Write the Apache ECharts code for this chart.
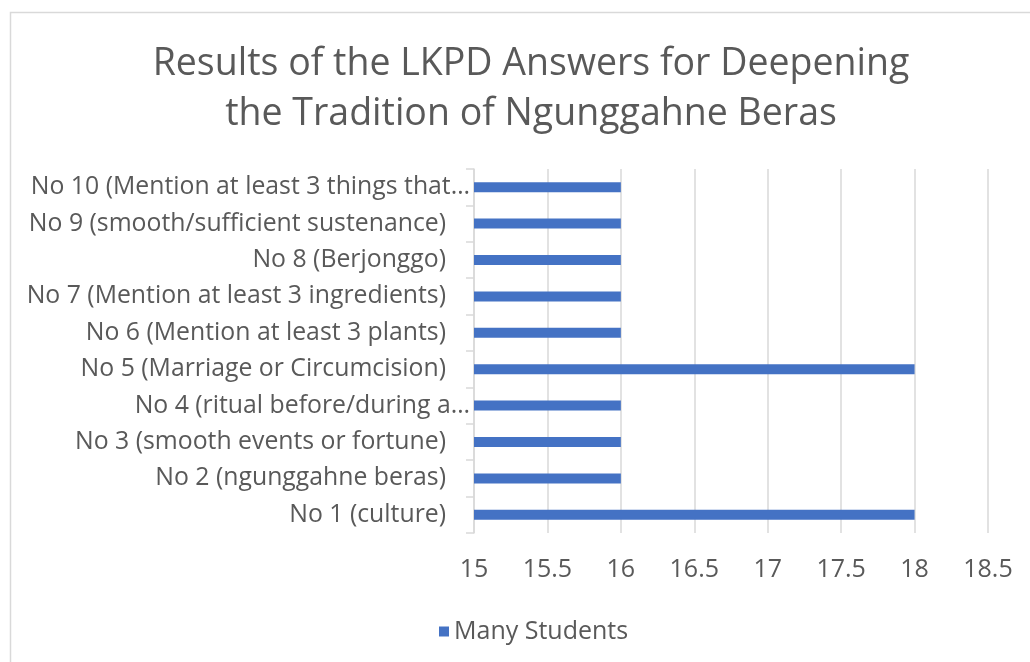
<!DOCTYPE html>
<html>
<head>
<meta charset="utf-8">
<script src="https://cdn.jsdelivr.net/npm/echarts@6/dist/echarts.min.js"></script>
<style>
html,body{margin:0;padding:0;background:#fff;}
#chart{width:1030px;height:662px;}
</style>
</head>
<body>
<div id="chart"></div>
<script>
const titleText = "Results of the LKPD Answers for Deepening\nthe Tradition of Ngunggahne Beras";
const categories = [
  "No 1 (culture)",
  "No 2 (ngunggahne beras)",
  "No 3 (smooth events or fortune)",
  "No 4 (ritual before/during a…",
  "No 5 (Marriage or Circumcision)",
  "No 6 (Mention at least 3 plants)",
  "No 7 (Mention at least 3 ingredients)",
  "No 8 (Berjonggo)",
  "No 9 (smooth/sufficient sustenance)",
  "No 10 (Mention at least 3 things that…"
];
const seriesName = "Many Students";
const values = [18, 16, 16, 16, 18, 16, 16, 16, 16, 16];
const xMin = 15, xMax = 18.5, xStep = 0.5;

const FONT = "Open Sans";
// truncated labels (ending with an ellipsis) reach closer to the axis, as in the source
const catData = categories.map(c => c.endsWith('…')
  ? {value: c, textStyle: {padding: [0, -24, 0, 0]}}
  : c);

const chart = echarts.init(document.getElementById('chart'), null, {renderer: 'canvas'});
chart.setOption({
  animation: false,
  backgroundColor: '#ffffff',
  textStyle: {fontFamily: FONT},
  graphic: [{
    type: 'rect', left: 8, top: 10, z: -1,
    shape: {width: 1040, height: 680},
    style: {fill: 'none', stroke: '#d9d9d9', lineWidth: 1.5}
  }],
  title: {
    text: titleText,
    left: 526, textAlign: 'center', top: 34,
    textStyle: {fontFamily: FONT, fontSize: 37.5, fontWeight: 'normal', color: '#595959', lineHeight: 50}
  },
  legend: {
    data: [seriesName],
    left: 434, top: 614,
    itemWidth: 10, itemHeight: 10, itemGap: 11,
    icon: 'rect',
    textStyle: {fontFamily: FONT, fontSize: 25, color: '#595959'}
  },
  grid: {left: 474, right: 42, top: 169, bottom: 129, containLabel: false},
  xAxis: {
    type: 'value', min: xMin, max: xMax, interval: xStep,
    axisLine: {show: false}, axisTick: {show: false},
    axisLabel: {fontFamily: FONT, fontSize: 25, color: '#595959', margin: 24},
    splitLine: {show: true, lineStyle: {color: '#d9d9d9', width: 1.5}}
  },
  yAxis: {
    type: 'category', data: catData,
    axisLine: {show: true, lineStyle: {color: '#d9d9d9', width: 1.5}},
    axisTick: {show: true, length: 8, inside: false, lineStyle: {color: '#d9d9d9', width: 1.5}},
    axisLabel: {fontFamily: FONT, fontSize: 24.8, color: '#595959', margin: 28}
  },
  series: [{
    name: seriesName, type: 'bar', data: values,
    barWidth: 10,
    itemStyle: {color: '#4472c4'}
  }]
});
</script>
</body>
</html>
